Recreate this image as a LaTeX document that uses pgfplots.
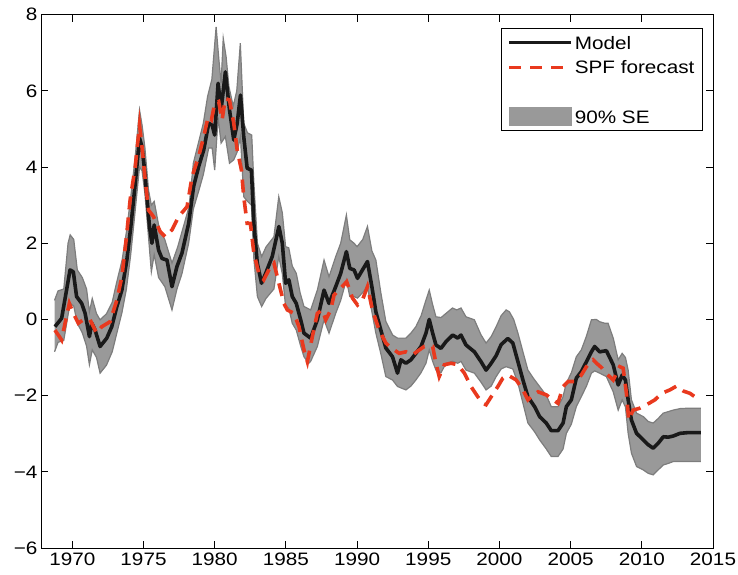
\documentclass[border=0pt]{standalone}
\usepackage{fontspec}
\setmainfont{Liberation Sans}[FakeStretch=1.15]
\usepackage{pgfplots}
\pgfplotsset{compat=1.18}
\usepackage{pgfplotstable}
\usepgfplotslibrary{fillbetween}
\definecolor{spfred}{RGB}{233,57,30}
\definecolor{bandfill}{RGB}{153,153,153}
\definecolor{bandedge}{RGB}{125,125,125}
\definecolor{modelblack}{RGB}{25,25,25}
\pgfplotsset{
  longline/.style={legend image code/.code={\draw[##1] (0bp,0bp) -- (62bp,0bp);}},
  bandlegend/.style={legend image code/.code={\fill[bandfill] (0bp,-9bp) rectangle (62bp,9bp);}},
}

\pgfplotstableread{
x y
1968.78 -0.19
1969.25 0.03
1969.84 1.30
1970.07 1.25
1970.30 0.60
1970.66 0.42
1970.90 0.16
1971.20 -0.45
1971.37 -0.10
1971.60 -0.28
1971.95 -0.71
1972.42 -0.49
1972.77 -0.19
1973.13 0.34
1973.48 0.77
1973.83 1.56
1974.11 2.44
1974.42 3.57
1974.72 4.76
1974.89 4.54
1975.05 4.01
1975.24 3.22
1975.42 2.44
1975.59 2.00
1975.75 2.48
1976.06 1.82
1976.30 1.60
1976.65 1.56
1977.00 0.86
1977.35 1.39
1977.70 1.74
1978.17 2.52
1978.52 3.49
1978.87 4.01
1979.23 4.45
1979.58 5.15
1979.82 5.10
1980.00 4.84
1980.24 6.20
1980.45 5.50
1980.75 6.50
1981.04 5.50
1981.34 4.71
1981.58 5.15
1981.81 5.89
1982.04 4.80
1982.28 3.97
1982.58 3.92
1982.75 2.52
1982.99 1.48
1983.29 0.95
1983.57 1.20
1984.04 1.65
1984.51 2.44
1984.75 2.00
1984.98 0.95
1985.21 1.04
1985.45 0.60
1985.73 0.42
1986.04 -0.01
1986.27 -0.36
1986.74 -0.49
1987.21 -0.01
1987.68 0.77
1988.03 0.42
1988.50 0.86
1988.85 1.21
1989.25 1.78
1989.49 1.34
1989.79 1.30
1990.03 1.08
1990.38 1.30
1990.73 1.52
1991.04 0.86
1991.32 0.20
1991.67 -0.28
1992.02 -0.75
1992.49 -0.98
1992.84 -1.41
1993.08 -1.06
1993.43 -1.15
1993.78 -1.06
1994.13 -0.89
1994.49 -0.71
1994.84 -0.36
1995.07 0.00
1995.31 -0.36
1995.54 -0.67
1995.89 -0.76
1996.25 -0.58
1996.72 -0.41
1997.07 -0.49
1997.30 -0.41
1997.65 -0.67
1998.24 -0.85
1998.71 -1.11
1999.06 -1.33
1999.42 -1.15
1999.77 -0.95
2000.12 -0.66
2000.59 -0.50
2000.94 -0.62
2001.30 -1.11
2001.65 -1.59
2002.00 -2.03
2002.47 -2.29
2002.82 -2.55
2003.29 -2.72
2003.64 -2.92
2004.11 -2.92
2004.47 -2.72
2004.70 -2.29
2005.05 -2.11
2005.40 -1.54
2005.75 -1.37
2006.11 -1.11
2006.46 -0.85
2006.69 -0.71
2007.04 -0.85
2007.51 -0.82
2007.99 -1.19
2008.34 -1.72
2008.62 -1.46
2008.85 -1.59
2009.04 -2.11
2009.27 -2.64
2009.63 -2.99
2010.10 -3.16
2010.45 -3.29
2010.80 -3.38
2011.15 -3.25
2011.51 -3.08
2011.86 -3.09
2012.21 -3.06
2012.68 -2.99
2013.27 -2.97
2014.15 -2.97
}\modeltab

\pgfplotstableread{
x y
1968.75 0.50
1969.00 0.75
1969.40 0.80
1969.70 2.00
1969.85 2.22
1970.10 2.10
1970.35 1.30
1970.70 1.10
1971.00 0.80
1971.20 0.20
1971.40 0.55
1971.70 0.15
1971.95 -0.01
1972.40 0.15
1972.80 0.45
1973.10 0.95
1973.50 1.56
1973.80 2.30
1974.10 3.20
1974.40 4.20
1974.72 5.50
1974.90 5.10
1975.10 4.50
1975.35 3.40
1975.55 3.00
1975.75 3.10
1976.10 2.40
1976.50 2.09
1977.00 1.48
1977.40 1.90
1977.70 2.30
1978.20 2.96
1978.50 4.10
1978.90 4.70
1979.20 5.15
1979.50 5.85
1979.80 6.30
1980.10 7.68
1980.30 6.80
1980.45 6.20
1980.60 7.38
1980.80 6.90
1981.00 6.11
1981.30 5.60
1981.55 6.00
1981.80 7.25
1982.04 5.15
1982.30 4.90
1982.60 4.84
1982.75 3.60
1983.00 2.00
1983.30 1.65
1983.60 1.90
1984.16 2.17
1984.50 3.22
1984.75 2.80
1984.98 1.91
1985.20 1.88
1985.45 1.40
1985.73 1.21
1986.00 0.70
1986.27 0.34
1986.74 0.25
1987.21 0.77
1987.68 1.56
1988.03 1.12
1988.50 1.65
1988.85 2.00
1989.25 2.74
1989.49 2.09
1989.79 2.00
1990.00 1.91
1990.40 2.10
1990.73 2.44
1991.04 1.80
1991.32 1.56
1991.67 0.70
1992.02 -0.05
1992.50 -0.41
1992.84 -0.49
1993.43 -0.49
1993.80 -0.35
1994.13 -0.19
1994.50 0.10
1994.84 0.51
1995.07 0.77
1995.30 0.40
1995.54 0.07
1995.90 0.05
1996.25 0.16
1996.70 0.30
1997.00 0.25
1997.30 0.30
1997.65 0.07
1998.24 -0.01
1998.70 -0.40
1999.06 -0.62
1999.42 -0.45
1999.77 -0.19
2000.12 0.10
2000.47 0.25
2000.70 0.20
2001.00 0.00
2001.30 -0.36
2001.65 -0.85
2002.00 -1.33
2002.40 -1.55
2002.82 -1.76
2003.30 -2.00
2003.64 -2.29
2004.11 -2.29
2004.45 -2.05
2004.70 -1.67
2005.05 -1.40
2005.40 -0.98
2005.75 -0.80
2006.10 -0.45
2006.46 -0.01
2006.80 0.00
2007.04 -0.06
2007.40 -0.10
2007.63 -0.10
2008.00 -0.50
2008.34 -1.06
2008.62 -0.89
2008.85 -1.00
2009.04 -1.33
2009.27 -2.11
2009.63 -2.46
2010.10 -2.55
2010.45 -2.68
2010.80 -2.72
2011.15 -2.60
2011.50 -2.46
2011.86 -2.42
2012.20 -2.38
2012.70 -2.34
2013.27 -2.33
2014.15 -2.33
}\uptab

\pgfplotstableread{
x y
1968.75 -0.85
1969.00 -0.60
1969.40 -0.55
1969.84 0.43
1970.10 0.35
1970.35 -0.10
1970.70 -0.35
1971.00 -0.70
1971.20 -1.19
1971.40 -0.80
1971.70 -1.00
1971.95 -1.41
1972.40 -1.20
1972.80 -0.85
1973.10 -0.40
1973.48 0.17
1973.80 0.80
1974.10 1.70
1974.40 2.80
1974.72 4.00
1974.90 3.90
1975.10 3.30
1975.30 2.40
1975.55 1.25
1975.75 1.70
1976.06 1.10
1976.50 0.86
1977.00 0.25
1977.35 0.80
1977.70 1.20
1978.17 2.00
1978.50 2.90
1978.90 3.40
1979.20 3.80
1979.58 4.50
1979.82 4.50
1980.00 3.92
1980.24 5.30
1980.45 4.63
1980.75 4.80
1981.04 4.10
1981.34 4.19
1981.58 4.40
1981.81 4.80
1982.04 3.22
1982.30 3.10
1982.58 3.00
1982.75 1.60
1983.00 0.60
1983.30 0.34
1983.60 0.55
1984.16 0.80
1984.50 1.65
1984.75 1.20
1984.98 0.34
1985.20 0.30
1985.45 -0.10
1985.73 -0.28
1986.04 -0.70
1986.27 -0.98
1986.60 -1.15
1986.74 -1.10
1987.21 -0.71
1987.68 -0.01
1988.03 -0.36
1988.50 0.16
1988.85 0.50
1989.25 1.04
1989.49 0.60
1989.79 0.60
1990.03 0.56
1990.38 0.70
1990.73 0.86
1991.04 0.20
1991.32 -0.36
1991.67 -0.90
1992.02 -1.50
1992.49 -1.59
1992.84 -1.76
1993.43 -1.85
1993.78 -1.75
1994.13 -1.59
1994.49 -1.40
1994.84 -1.15
1995.07 -0.80
1995.31 -1.10
1995.54 -1.33
1995.89 -1.40
1996.25 -1.15
1996.72 -1.10
1997.07 -1.15
1997.30 -1.10
1997.65 -1.33
1998.24 -1.41
1998.71 -1.65
1999.06 -1.85
1999.42 -1.75
1999.77 -1.50
2000.12 -1.30
2000.47 -1.24
2000.94 -1.30
2001.30 -1.67
2001.65 -2.20
2002.00 -2.72
2002.47 -2.95
2002.82 -3.16
2003.29 -3.40
2003.64 -3.60
2004.11 -3.60
2004.47 -3.40
2004.70 -2.99
2005.05 -2.75
2005.40 -2.29
2005.75 -2.03
2006.11 -1.75
2006.46 -1.41
2006.69 -1.35
2007.04 -1.41
2007.51 -1.50
2007.99 -1.90
2008.34 -2.38
2008.62 -2.11
2008.85 -2.30
2009.04 -2.99
2009.27 -3.51
2009.63 -3.86
2010.10 -3.95
2010.45 -4.04
2010.80 -4.08
2011.15 -3.95
2011.51 -3.82
2011.86 -3.78
2012.21 -3.73
2012.68 -3.73
2013.27 -3.73
2014.15 -3.73
}\lotab

\pgfplotstableread{
x y
1968.78 -0.28
1969.25 -0.54
1969.49 -0.10
1969.79 0.42
1970.07 0.16
1970.42 -0.10
1970.77 -0.01
1971.25 -0.01
1971.70 -0.36
1972.07 -0.19
1972.65 -0.06
1973.13 0.51
1973.48 1.12
1973.78 2.09
1974.06 3.14
1974.42 4.01
1974.72 5.10
1974.89 4.54
1975.12 3.66
1975.35 2.87
1975.70 2.70
1976.18 2.30
1976.53 2.17
1977.00 2.35
1977.47 2.70
1978.06 2.96
1978.41 3.75
1978.87 4.27
1979.23 4.80
1979.54 5.32
1979.77 5.24
1980.00 5.67
1980.28 5.72
1980.52 5.24
1980.75 5.80
1981.04 5.76
1981.34 5.15
1981.58 4.45
1981.88 3.92
1982.04 3.22
1982.28 2.52
1982.51 2.52
1982.75 1.74
1983.10 1.21
1983.45 1.04
1983.92 1.39
1984.16 1.48
1984.51 0.95
1984.86 0.42
1985.10 0.25
1985.56 0.16
1985.92 -0.19
1986.27 -0.80
1986.51 -1.11
1986.86 -0.45
1987.21 0.16
1987.56 0.25
1987.80 -0.01
1988.15 0.25
1988.38 0.64
1988.85 0.82
1989.27 0.99
1989.68 0.56
1990.03 0.38
1990.38 0.51
1990.73 0.86
1991.08 0.25
1991.55 -0.28
1992.02 -0.62
1992.37 -0.74
1992.96 -0.89
1993.43 -0.85
1993.90 -0.93
1994.37 -0.80
1994.72 -0.71
1995.31 -0.71
1995.54 -1.15
1995.77 -1.50
1996.13 -1.19
1996.60 -1.15
1997.07 -1.19
1997.54 -1.41
1998.00 -1.76
1998.48 -2.03
1998.83 -2.20
1999.06 -2.24
1999.42 -2.03
1999.89 -1.76
2000.24 -1.54
2000.59 -1.46
2001.18 -1.59
2001.65 -1.85
2002.00 -2.11
2002.23 -2.03
2002.71 -1.90
2003.29 -1.98
2003.76 -2.11
2004.11 -2.20
2004.47 -1.76
2004.82 -1.63
2005.28 -1.63
2005.75 -1.46
2006.11 -1.24
2006.58 -1.06
2006.82 -1.15
2007.16 -1.26
2007.51 -1.42
2007.99 -1.59
2008.45 -1.24
2008.69 -1.28
2008.92 -1.94
2009.08 -2.64
2009.39 -2.38
2009.86 -2.33
2010.33 -2.24
2010.92 -2.11
2011.39 -1.94
2011.97 -1.85
2012.44 -1.75
2012.92 -1.88
2013.38 -1.94
2013.73 -2.03
2013.97 -1.94
}\spftab

\newcommand{\chartfont}{\fontsize{18bp}{21bp}\selectfont}

\begin{document}
\begin{tikzpicture}
\begin{axis}[
  scale only axis,
  width=672bp, height=533.3bp,
  xmin=1967.8, xmax=2015,
  ymin=-6, ymax=8,
  xtick={1970,1975,1980,1985,1990,1995,2000,2005,2010,2015},
  xticklabels={1970,1975,1980,1985,1990,1995,2000,2005,2010,2015},
  ytick={-6,-4,-2,0,2,4,6,8},
  yticklabels={−6,−4,−2,0,2,4,6,8},
  tick align=inside,
  xtick pos=both, ytick pos=both,
  major tick length=7bp,
  axis line style={black, line width=0.9bp},
  tick style={black, line width=0.9bp},
  ticklabel style={font=\chartfont},
  xticklabel style={yshift=-1bp},
  legend style={
    at={(rel axis cs:0.985,0.975)}, anchor=north east,
    draw=black, line width=0.9bp, font=\chartfont,
    inner xsep=6bp, inner ysep=4bp,
    nodes={inner sep=2bp},
    row sep=4.5bp,
  },
  legend cell align=left,
]
\addplot[name path=up, bandedge, line width=1.2bp, forget plot] table {\uptab};
\addplot[name path=lo, bandedge, line width=1.2bp, forget plot] table {\lotab};
\addplot[bandfill, forget plot] fill between[of=up and lo];
\addplot[modelblack, line width=3.6bp, line join=round, forget plot] table {\modeltab};
\addplot[spfred, line width=3.6bp, dash pattern=on 13bp off 8bp, forget plot] table {\spftab};

\addlegendimage{modelblack, line width=3.5bp, longline}
\addlegendentry{\strut Model}
\addlegendimage{spfred, line width=3.5bp, dash pattern=on 12bp off 9bp, longline}
\addlegendentry{\strut SPF forecast}
\addlegendimage{empty legend}
\addlegendentry{\strut}
\addlegendimage{bandlegend}
\addlegendentry{\strut 90\% SE}
\end{axis}
\pgfresetboundingbox
\path (-41bp,-27bp) rectangle (697bp,548bp);
\end{tikzpicture}
\end{document}
